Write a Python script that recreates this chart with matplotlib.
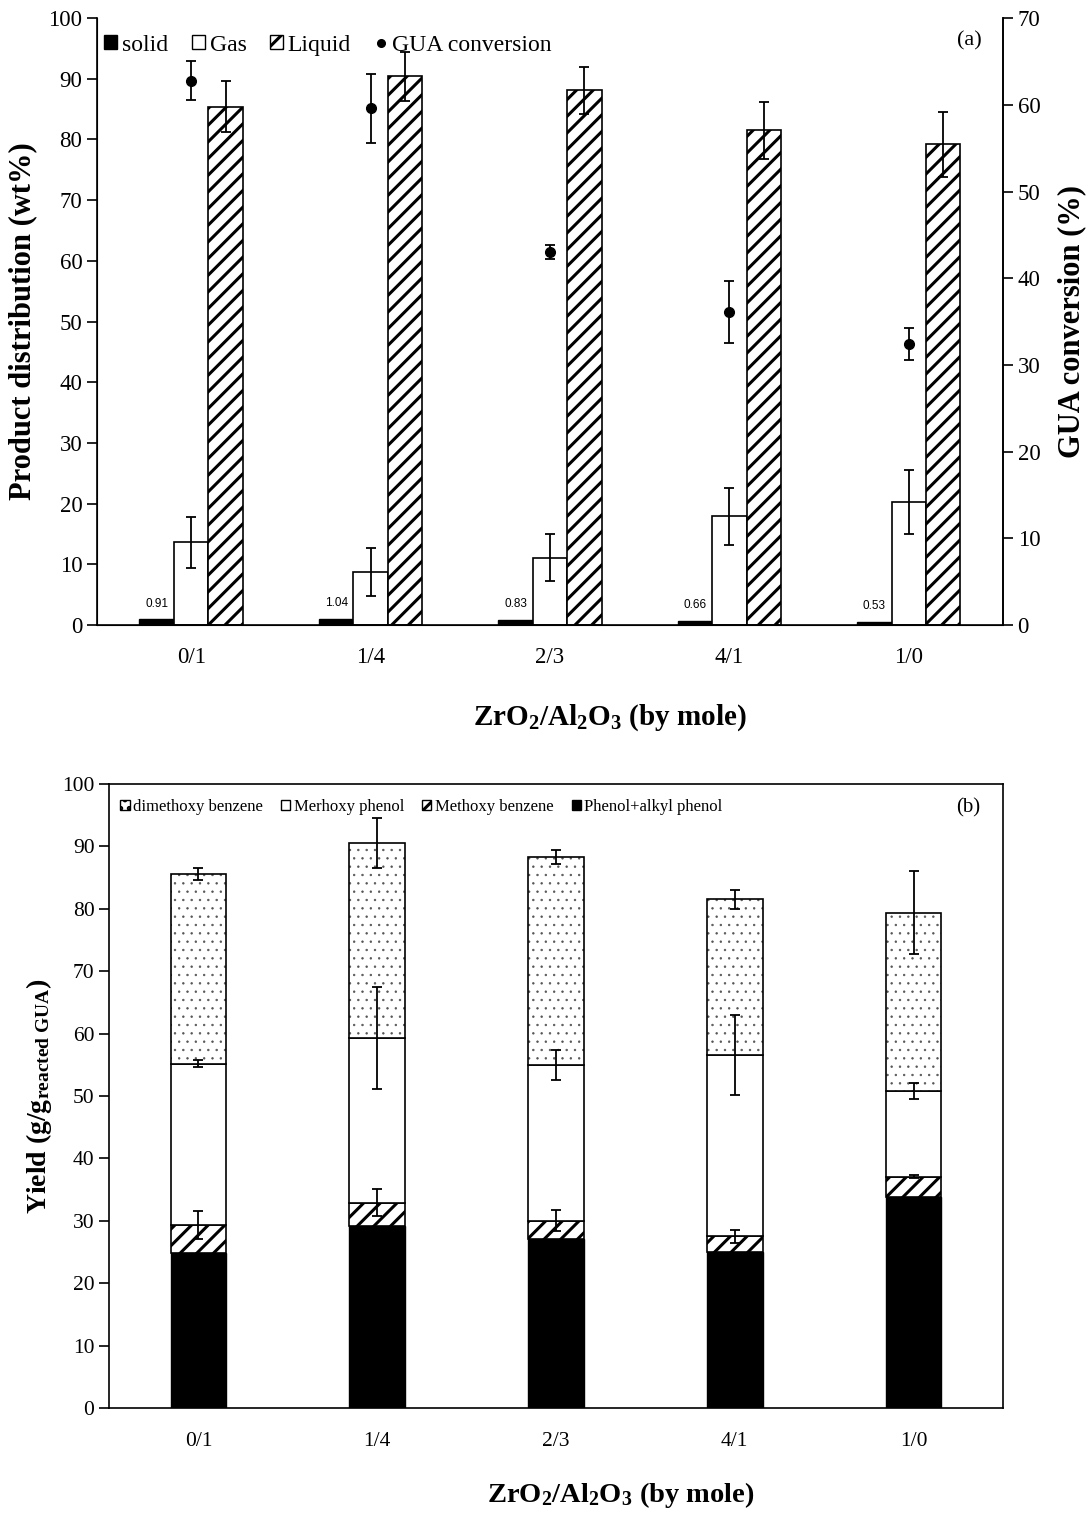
import matplotlib
matplotlib.use("Agg")
import matplotlib.pyplot as plt
from matplotlib.patches import Patch
from matplotlib.lines import Line2D
import numpy as np

plt.rcParams['font.family'] = ['Liberation Serif', 'DejaVu Serif']
plt.rcParams['mathtext.fontset'] = 'custom'
plt.rcParams['mathtext.rm'] = 'Liberation Serif'
plt.rcParams['mathtext.it'] = 'Liberation Serif:italic'
plt.rcParams['mathtext.bf'] = 'Liberation Serif:bold'
plt.rcParams['hatch.linewidth'] = 2.2

ratios = ['0/1', '1/4', '2/3', '4/1', '1/0']

# (a) product distribution, wt%
solid = [0.91, 1.04, 0.83, 0.66, 0.53]
gas = [13.6, 8.7, 11.1, 17.9, 20.2]
liquid = [85.4, 90.4, 88.1, 81.5, 79.2]
gl_err = [4.2, 4.0, 3.9, 4.7, 5.3]
gua_conv = [62.8, 59.6, 43.0, 36.1, 32.4]
gua_err = [2.2, 4.0, 0.8, 3.6, 1.8]

# (b) liquid product yields, stacked from bottom
phenol_alkyl = [24.8, 29.1, 27.1, 25.0, 33.8]
methoxy_benzene = [4.5, 3.8, 2.9, 2.5, 3.3]
methoxy_phenol = [25.9, 26.4, 25.0, 29.1, 13.7]
dimethoxy_benzene = [30.4, 31.2, 33.3, 24.9, 28.6]
err_mb = [2.2, 2.2, 1.7, 1.0, 0.2]
err_mp = [0.6, 8.2, 2.4, 6.4, 1.3]
err_db = [1.0, 4.0, 1.1, 1.5, 6.6]


def thin_dots(artists, lw=0.5):
    # fine grey dot texture needs a thinner hatch stroke than the stripes
    for a in artists:
        if hasattr(a, 'set_hatch_linewidth'):
            a.set_hatch_linewidth(lw)
        else:
            a._hatch_linewidth = lw


fig = plt.figure(figsize=(10.92, 15.13), dpi=100)
x = np.arange(len(ratios))
xlab = r'ZrO$_\mathbf{2}$/Al$_\mathbf{2}$O$_\mathbf{3}$ (by mole)'

# ---------------- (a) ----------------
ax = fig.add_axes([0.0888, 0.587, 0.8297, 0.401])
w = 0.192
ebkw = dict(fmt='none', ecolor='black', elinewidth=1.3, capsize=3.5, capthick=1.3)
ax.bar(x - w, solid, w, color='black', edgecolor='black', linewidth=1.0)
ax.bar(x, gas, w, color='white', edgecolor='black', linewidth=1.2)
ax.bar(x + w, liquid, w, color='white', edgecolor='black', linewidth=1.2, hatch='//')
ax.errorbar(x, gas, yerr=gl_err, **ebkw)
ax.errorbar(x + w, liquid, yerr=gl_err, **ebkw)
for xi, v in zip(x, solid):
    ax.annotate(f'{v:.2f}', (xi - w, v), xytext=(0, 7), textcoords='offset points',
                ha='center', va='bottom', fontsize=8.5, family='Liberation Sans')

ax.set_xlim(-0.525, 4.525)
ax.set_ylim(0, 100)
ax.set_yticks(range(0, 101, 10))
ax.set_xticks(x)
ax.set_xticklabels(ratios)
ax.tick_params(axis='y', direction='out', length=7, width=1.2, labelsize=16.5)
ax.tick_params(axis='x', length=0, pad=16, labelsize=16.5)
ax.spines['top'].set_visible(False)
for s in ['left', 'bottom', 'right']:
    ax.spines[s].set_linewidth(1.2)
ax.set_ylabel('Product distribution (wt%)', fontsize=22, fontweight='bold', labelpad=8)
ax.set_xlabel(xlab, fontsize=21, fontweight='bold')
ax.xaxis.set_label_coords(0.566, -0.127)

ax2 = ax.twinx()
ax2.errorbar(x, gua_conv, yerr=gua_err, fmt='o', color='black', markersize=7,
             elinewidth=1.3, capsize=3.5, capthick=1.3)
ax2.set_ylim(0, 70)
ax2.set_yticks(range(0, 71, 10))
ax2.tick_params(axis='y', direction='out', length=7, width=1.2, labelsize=16.5)
ax2.spines['top'].set_visible(False)
ax2.spines['right'].set_linewidth(1.2)
ax2.set_ylabel('GUA conversion (%)', fontsize=22, fontweight='bold', labelpad=12)

handles_a = [Patch(facecolor='black', edgecolor='black'),
             Patch(facecolor='white', edgecolor='black'),
             Patch(facecolor='white', edgecolor='black', hatch='//'),
             Line2D([], [], marker='o', color='black', linestyle='none', markersize=5.5)]
ax2.legend(handles_a, ['solid', 'Gas', 'Liquid', 'GUA conversion'], loc='upper left',
           ncol=4, frameon=False, fontsize=17, handlelength=0.55, handleheight=0.55,
           handletextpad=0.2, columnspacing=1.0, borderaxespad=0.3,
           bbox_to_anchor=(-0.01, 1.0))
ax2.text(0.976, 0.962, '(a)', transform=ax.transAxes, ha='right', va='center', fontsize=16)

# ---------------- (b) ----------------
bx = fig.add_axes([0.0998, 0.0694, 0.8187, 0.4124])
wb = 0.31
b1 = np.array(phenol_alkyl)
b2 = b1 + np.array(methoxy_benzene)
b3 = b2 + np.array(methoxy_phenol)
b4 = b3 + np.array(dimethoxy_benzene)
bx.bar(x, phenol_alkyl, wb, color='black', edgecolor='black', linewidth=1.0)
bx.bar(x, methoxy_benzene, wb, bottom=b1, color='white', edgecolor='black',
       linewidth=1.2, hatch='//')
bx.bar(x, methoxy_phenol, wb, bottom=b2, color='white', edgecolor='black', linewidth=1.2)
dots = bx.bar(x, dimethoxy_benzene, wb, bottom=b3, color='white', edgecolor='#555555',
              linewidth=0, hatch='..')
thin_dots(dots)
bx.bar(x, dimethoxy_benzene, wb, bottom=b3, fill=False, edgecolor='black', linewidth=1.2)
bx.errorbar(x, b2, yerr=err_mb, **ebkw)
bx.errorbar(x, b3, yerr=err_mp, **ebkw)
bx.errorbar(x, b4, yerr=err_db, **ebkw)

bx.set_xlim(-0.5, 4.5)
bx.set_ylim(0, 100)
bx.set_yticks(range(0, 101, 10))
bx.set_xticks(x)
bx.set_xticklabels(ratios)
bx.tick_params(axis='y', direction='out', length=7, width=1.2, labelsize=15.5)
bx.tick_params(axis='x', length=0, pad=17, labelsize=15.5)
for s in bx.spines.values():
    s.set_linewidth(1.2)
bx.set_ylabel(r'Yield (g/g$_\mathbf{reacted\ GUA}$)', fontsize=20, fontweight='bold', labelpad=6)
bx.set_xlabel(xlab, fontsize=20.5, fontweight='bold')
bx.xaxis.set_label_coords(0.572, -0.115)

dot_handle = Patch(facecolor='white', edgecolor='black', hatch='..')
thin_dots([dot_handle], 0.4)
handles_b = [dot_handle,
             Patch(facecolor='white', edgecolor='black'),
             Patch(facecolor='white', edgecolor='black', hatch='//'),
             Patch(facecolor='black', edgecolor='black')]
bx.legend(handles_b, ['dimethoxy benzene', 'Merhoxy phenol', 'Methoxy benzene',
                      'Phenol+alkyl phenol'], loc='upper left', ncol=4, frameon=False,
          fontsize=12, handlelength=0.55, handleheight=0.55, handletextpad=0.2,
          columnspacing=1.1, borderaxespad=0.5, bbox_to_anchor=(-0.004, 1.0))
bx.text(0.975, 0.962, '(b)', transform=bx.transAxes, ha='right', va='center', fontsize=15)

fig.savefig('out.png', dpi=100)
